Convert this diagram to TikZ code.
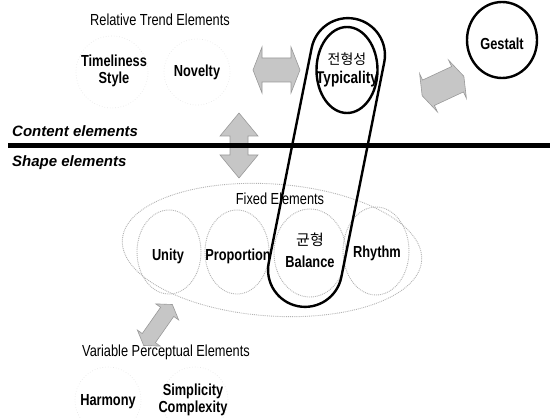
\documentclass[tikz,border=0pt]{standalone}
\usepackage{fontspec}
\setmainfont{Liberation Sans}
\newfontfamily\nar[FakeStretch=0.8]{Liberation Sans}
\newfontfamily\kr{Noto Sans CJK KR}
\usetikzlibrary{shapes.geometric,shapes.misc}
% block double arrow: center x, y, rotation, half length, head length, head half width, body half width
\newcommand\myblockarrow[7]{%
  \begin{scope}[shift={(#1,#2)}, rotate=#3]
    \filldraw[blk] (-#4,0) -- (-#4+#5,#6) -- (-#4+#5,#7) -- (#4-#5,#7) -- (#4-#5,#6) -- (#4,0)
      -- (#4-#5,-#6) -- (#4-#5,-#7) -- (-#4+#5,-#7) -- (-#4+#5,-#6) -- cycle;
  \end{scope}}
\begin{document}
\begin{tikzpicture}[x=1pt,y=1pt,
  blk/.style={fill=gray!45, draw=gray!80, line width=0.6pt, line join=miter},
  outl/.style={draw=black, line width=2.4pt, inner sep=0pt},
  dots/.style={draw=gray!60, densely dotted, line width=0.9pt, inner sep=0pt},
  faint/.style={draw=gray!18, dotted, line width=0.7pt, inner sep=0pt},
  txt/.style={font=\nar\fontsize{16}{17}\selectfont, inner sep=0pt},
  btxt/.style={font=\nar\bfseries\fontsize{16}{17}\selectfont, inner sep=0pt, align=center},
  sec/.style={font=\bfseries\itshape\fontsize{15}{17}\selectfont, inner sep=0pt, anchor=west},
  krt/.style={font=\kr\fontsize{14}{15}\selectfont, inner sep=0pt}
]
\useasboundingbox (0,0) rectangle (559,-419);

% faint circles
\node[faint, circle, minimum size=72] (ctime) at (112,-72) {};
\node[faint, circle, minimum size=66] (cnov) at (197,-72) {};
\node[faint, circle, minimum size=66] (charm) at (108,-400) {};
\node[faint, circle, minimum size=66] (csimp) at (195,-400) {};

% block arrows
\myblockarrow{276.5}{-70}{0}{23.5}{9}{23}{12}
\myblockarrow{239}{-145.5}{90}{32.5}{23}{19}{9}
\myblockarrow{443}{-86}{25}{23}{7}{21}{14}
\myblockarrow{158}{-325}{55}{25}{9}{14}{8}

% divider
\coordinate (hl) at (8,-146);
\coordinate (hr) at (550,-146);
\draw[line width=5pt] (hl) -- (hr);

% fixed elements
\node[dots, ellipse, minimum width=300, minimum height=132, rotate=-4] (fixed) at (272,-250) {};
\node[dots, ellipse, minimum width=64, minimum height=84] (unity) at (169,-252) {};
\node[dots, ellipse, minimum width=64, minimum height=84] (prop) at (237,-252) {};
\node[dots, ellipse, minimum width=72, minimum height=88] (bal) at (310,-253) {};
\node[dots, ellipse, minimum width=66, minimum height=88] (rhy) at (376,-251) {};

% loop and typicality
\node[rounded rectangle, outl, minimum width=293, minimum height=74, rotate=78.7] (loop) at (326.5,-162.5) {};
\node[ellipse, outl, minimum width=61, minimum height=86] (typ) at (347,-70) {};
\node[ellipse, outl, minimum width=70, minimum height=76] (gest) at (502,-40) {};

% texts
\node[txt] (rel) at (160,-20) {Relative Trend Elements};
\node[btxt] (time) at (114,-71) {Timeliness\\Style};
\node[btxt] (nov) at (197,-72) {Novelty};
\node[sec] (content) at (12,-131) {Content elements};
\node[sec] (shape) at (12,-163) {Shape elements};
\node[krt] (typk) at (347,-59) {전형성};
\node[btxt, font=\nar\bfseries\fontsize{17}{18}\selectfont] (typt) at (347,-79) {Typicality};
\node[btxt] (gestt) at (502,-44) {Gestalt};
\node[txt] (fixt) at (280,-199) {Fixed Elements};
\node[btxt] (unityt) at (168,-256) {Unity};
\node[btxt] (propt) at (238,-256) {Proportion};
\node[krt, font=\kr\fontsize{15}{16}\selectfont] (balk) at (310,-240) {균형};
\node[btxt] (balt) at (310,-262) {Balance};
\node[btxt] (rhyt) at (377,-253) {Rhythm};
\node[txt] (vart) at (166,-352) {Variable Perceptual Elements};
\node[btxt] (harm) at (108,-402) {Harmony};
\node[btxt] (simp) at (193,-400) {Simplicity\\Complexity};
\end{tikzpicture}
\end{document}
